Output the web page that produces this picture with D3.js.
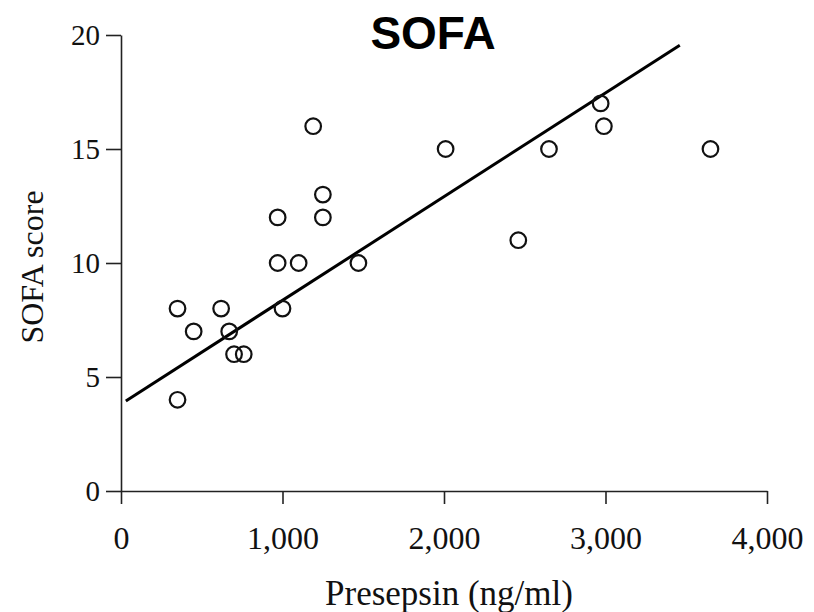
<!DOCTYPE html>
<html>
<head>
<meta charset="utf-8">
<script src="https://cdn.jsdelivr.net/npm/d3@7"></script>
<style>
  html, body { margin: 0; padding: 0; background: #fff; }
  svg { display: block; }
</style>
</head>
<body>
<svg id="chart" width="814" height="612"></svg>
<script>
// Presepsin (ng/ml) vs. SOFA score, one entry per patient
const presepsin = [350, 350, 450, 620, 670, 700, 760, 970, 970, 1000, 1100,
                   1190, 1250, 1250, 1470, 2010, 2460, 2650, 2970, 2990, 3650];
const sofa      = [8, 4, 7, 8, 7, 6, 6, 12, 10, 8, 10,
                   16, 13, 12, 10, 15, 11, 15, 17, 16, 15];

// Regression line end points
const fitX = [30, 3460];
const fitY = [3.95, 19.55];

const xTicks = [0, 1000, 2000, 3000, 4000];
const yTicks = [0, 5, 10, 15, 20];

const svg = d3.select("#chart");
const serif = "'Liberation Serif', 'Times New Roman', serif";

const x = d3.scaleLinear().domain([0, 4000]).range([121, 767]);
const y = d3.scaleLinear().domain([0, 20]).range([491, 35]);

// Axes
const xAxis = d3.axisBottom(x).tickValues(xTicks).tickSize(13).tickSizeOuter(0)
  .tickPadding(22).tickFormat(d3.format(","));
const yAxis = d3.axisLeft(y).tickValues(yTicks).tickSize(15).tickSizeOuter(0)
  .tickPadding(6);

const gx = svg.append("g").attr("transform", `translate(0,${y(0)})`).call(xAxis);
const gy = svg.append("g").attr("transform", `translate(${x(0)},0)`).call(yAxis);

[gx, gy].forEach(g => {
  g.selectAll("path.domain, .tick line")
    .attr("stroke", "#222").attr("stroke-width", 1.6);
  g.selectAll("text").attr("fill", "#111").style("font-family", serif);
});
gx.selectAll("text").style("font-size", "32px");
gy.selectAll("text").style("font-size", "29px");

// Fitted line
const pts = fitX.map((v, i) => [v, fitY[i]]);
svg.append("path")
  .datum(pts)
  .attr("d", d3.line().x(d => x(d[0])).y(d => y(d[1])))
  .attr("fill", "none")
  .attr("stroke", "#000")
  .attr("stroke-width", 3);

// Points
svg.append("g").selectAll("circle")
  .data(presepsin.map((v, i) => ({ p: v, s: sofa[i] })))
  .join("circle")
  .attr("cx", d => x(d.p))
  .attr("cy", d => y(d.s))
  .attr("r", 7.8)
  .attr("fill", "none")
  .attr("stroke", "#111")
  .attr("stroke-width", 2.2);

// Title
svg.append("text")
  .attr("x", 433).attr("y", 49)
  .attr("text-anchor", "middle")
  .style("font-family", "'Liberation Sans', Arial, sans-serif")
  .style("font-weight", "bold")
  .style("font-size", "46px")
  .attr("fill", "#000")
  .text("SOFA");

// Axis titles
svg.append("text")
  .attr("x", 449).attr("y", 605)
  .attr("text-anchor", "middle")
  .style("font-family", serif)
  .style("font-size", "35px")
  .attr("fill", "#111")
  .text("Presepsin (ng/ml)");

svg.append("text")
  .attr("transform", "translate(43,267) rotate(-90)")
  .attr("text-anchor", "middle")
  .style("font-family", serif)
  .style("font-size", "32px")
  .attr("fill", "#111")
  .text("SOFA score");
</script>
</body>
</html>
